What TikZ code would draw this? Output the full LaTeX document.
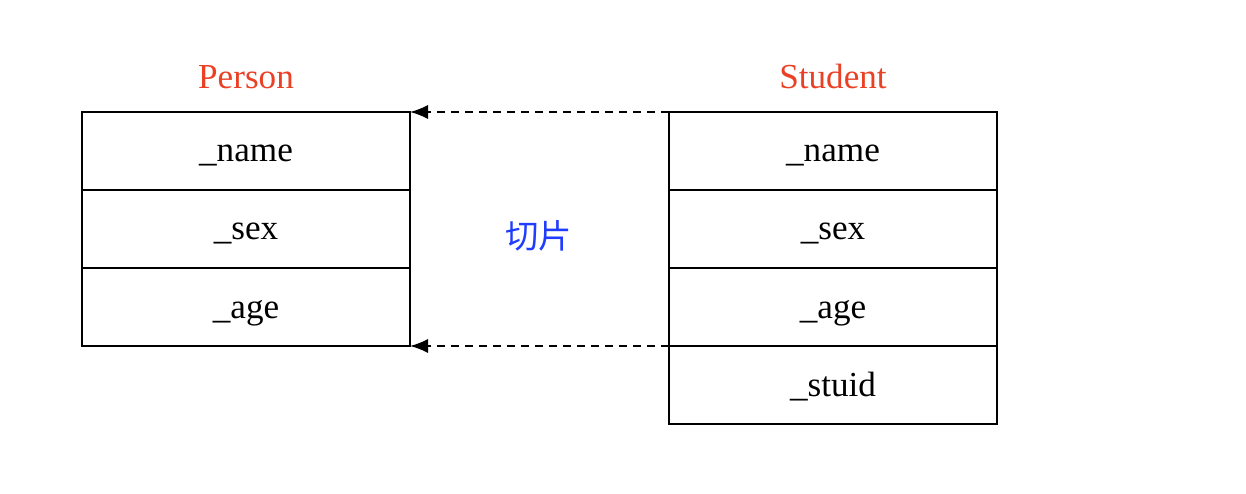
\documentclass[tikz,border=0pt]{standalone}
\usepackage{fontspec}
\setmainfont{Liberation Serif}
\newfontfamily\cjk{Noto Sans CJK SC}
\usepackage{tikz}
\usetikzlibrary{arrows.meta, calc, positioning}
\definecolor{titlered}{HTML}{EA4126}
\definecolor{sliceblue}{HTML}{1F3CFF}
\tikzstyle{field} = [draw, line width=0.9pt, minimum width=6.56cm, minimum height=1.56cm, outer sep=0pt, inner sep=0pt, text height=0.44cm, text depth=0pt, font=\fontsize{20}{22}\selectfont]
\tikzstyle{title} = [text=titlered, font=\fontsize{20}{22}\selectfont]

\begin{document}
\begin{tikzpicture}[>={Latex[length=0.36cm, width=0.28cm]}, node distance=0cm, thick]
        \useasboundingbox (0,0) rectangle (24.92,-9.88);
        \node[field] (pname) at (4.92,-3.02) {\_name};
        \node[field, below=of pname] (psex) {\_sex};
        \node[field, below=of psex] (page) {\_age};
        \node[title, above=0.33cm of pname] (person) {Person};

        \node[field] (sname) at (16.66,-3.02) {\_name};
        \node[field, below=of sname] (ssex) {\_sex};
        \node[field, below=of ssex] (sage) {\_age};
        \node[field, below=of sage] (sid) {\_stuid};
        \node[title, above=0.33cm of sname] (student) {Student};

        \node[text=sliceblue, font=\cjk\fontsize{19}{21}\selectfont] (slice) at (10.77,-4.72) {切片};

        \draw[->, dash pattern=on 0.16cm off 0.12cm, line width=0.8pt] (sname.north west) -- (pname.north east);
        \draw[->, dash pattern=on 0.16cm off 0.12cm, line width=0.8pt] (sage.south west) -- (page.south east);
    \end{tikzpicture}
\end{document}
